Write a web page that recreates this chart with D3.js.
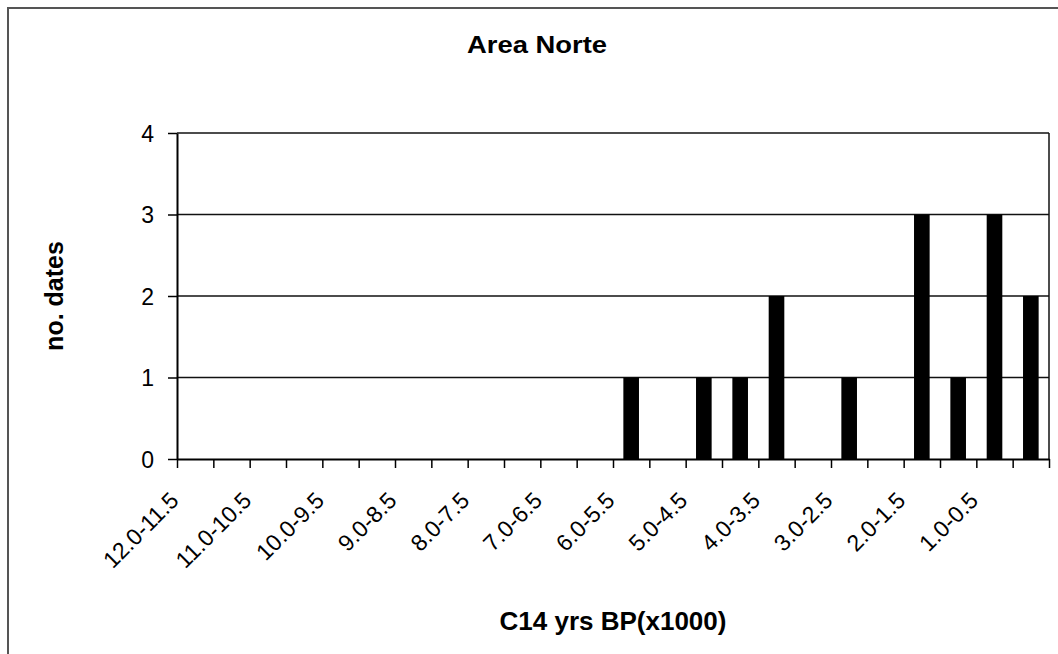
<!DOCTYPE html>
<html>
<head>
<meta charset="utf-8">
<script src="https://cdn.jsdelivr.net/npm/d3@7"></script>
<style>
  body { margin: 0; background: #fff; }
  svg text { font-family: "Liberation Sans", Arial, sans-serif; fill: #000; }
</style>
</head>
<body>
<div id="chart"></div>
<script>
// categories (C14 yrs BP x1000), oldest first
var categories = ["12.0-11.5", "11.5-11.0", "11.0-10.5", "10.5-10.0", "10.0-9.5", "9.5-9.0",
                  "9.0-8.5", "8.5-8.0", "8.0-7.5", "7.5-7.0", "7.0-6.5", "6.5-6.0",
                  "6.0-5.5", "5.5-5.0", "5.0-4.5", "4.5-4.0", "4.0-3.5", "3.5-3.0",
                  "3.0-2.5", "2.5-2.0", "2.0-1.5", "1.5-1.0", "1.0-0.5", "0.5-0.0"]
var counts = [0, 0, 0, 0, 0, 0, 0, 0, 0, 0, 0, 0,
              1, 0, 1, 1, 2, 0, 1, 0, 3, 1, 3, 2]
// only every other label is printed on the axis
var tickLabels = ["12.0-11.5", "11.0-10.5", "10.0-9.5", "9.0-8.5", "8.0-7.5", "7.0-6.5",
                  "6.0-5.5", "5.0-4.5", "4.0-3.5", "3.0-2.5", "2.0-1.5", "1.0-0.5"]
var yTicks = [0, 1, 2, 3, 4]

function drawChart() {
  var width = 1058, height = 654
  var mLeft = 177, mRight = 1049, mTop = 133, mBottom = 459

  var svg = d3.select("#chart").append("svg")
      .attr("width", width)
      .attr("height", height)

  // outer chart border (right/bottom edges fall outside the picture)
  svg.append("rect")
      .attr("x", 8).attr("y", 8)
      .attr("width", width + 10).attr("height", height + 10)
      .attr("fill", "none")
      .attr("stroke", "#555")
      .attr("stroke-width", 2)

  var x = d3.scaleBand().domain(categories).range([mLeft, mRight])
  var xEdge = d3.scaleLinear().domain([0, categories.length]).range([mLeft, mRight])
  var y = d3.scaleLinear().domain([0, 4]).range([mBottom, mTop])

  // gridlines
  svg.append("g").selectAll("line")
      .data(yTicks.slice(1))
      .enter().append("line")
      .attr("x1", mLeft).attr("x2", mRight)
      .attr("y1", function(d) { return y(d) }).attr("y2", function(d) { return y(d) })
      .attr("stroke", "#111")
      .attr("stroke-width", 1.5)

  // right edge of plot area
  svg.append("line")
      .attr("x1", mRight).attr("x2", mRight)
      .attr("y1", mTop).attr("y2", mBottom)
      .attr("stroke", "#111")
      .attr("stroke-width", 1.5)

  // bars
  var barW = x.bandwidth() * 0.43
  svg.append("g").selectAll("rect")
      .data(counts)
      .enter().append("rect")
      .attr("x", function(d, i) { return x(categories[i]) + (x.bandwidth() - barW) / 2 })
      .attr("y", function(d) { return y(d) })
      .attr("width", barW)
      .attr("height", function(d) { return mBottom - y(d) })
      .attr("fill", "#000")

  // y axis
  var yAxis = svg.append("g")
      .attr("transform", "translate(" + mLeft + ",0)")
      .call(d3.axisLeft(y).tickValues(yTicks).tickFormat(d3.format("d"))
        .tickSize(9).tickPadding(14).tickSizeOuter(0))
  yAxis.select(".domain").attr("stroke", "#000").attr("stroke-width", 2)
  yAxis.selectAll(".tick line").attr("stroke", "#000").attr("stroke-width", 1.5)
  yAxis.selectAll("text").style("font-size", "23px").attr("dy", "0.36em")

  // x axis: ticks on band edges
  var xAxis = svg.append("g")
      .attr("transform", "translate(0," + mBottom + ")")
      .call(d3.axisBottom(xEdge).tickValues(d3.range(categories.length + 1)).tickSize(9).tickFormat("").tickSizeOuter(0))
  xAxis.select(".domain").attr("stroke", "#000").attr("stroke-width", 2)
  xAxis.selectAll(".tick line").attr("stroke", "#000").attr("stroke-width", 1.5)

  // rotated category labels
  svg.append("g").selectAll("text")
      .data(tickLabels)
      .enter().append("text")
      .attr("transform", function(d) {
        return "translate(" + (x(d) + x.bandwidth() / 2 - 15) + "," + (mBottom + 43) + ") rotate(-45)"
      })
      .attr("text-anchor", "end")
      .style("font-size", "23px")
      .text(function(d) { return d })

  // titles
  svg.append("text")
      .attr("x", 537).attr("y", 53)
      .attr("text-anchor", "middle")
      .attr("textLength", 140)
      .attr("lengthAdjust", "spacingAndGlyphs")
      .style("font-size", "24px")
      .style("font-weight", "bold")
      .text("Area Norte")

  svg.append("text")
      .attr("transform", "translate(63,296) rotate(-90)")
      .attr("text-anchor", "middle")
      .style("font-size", "25px")
      .style("font-weight", "bold")
      .text("no. dates")

  svg.append("text")
      .attr("x", 613).attr("y", 630)
      .attr("text-anchor", "middle")
      .style("font-size", "26px")
      .style("font-weight", "bold")
      .text("C14 yrs BP(x1000)")
}

drawChart()
</script>
</body>
</html>
